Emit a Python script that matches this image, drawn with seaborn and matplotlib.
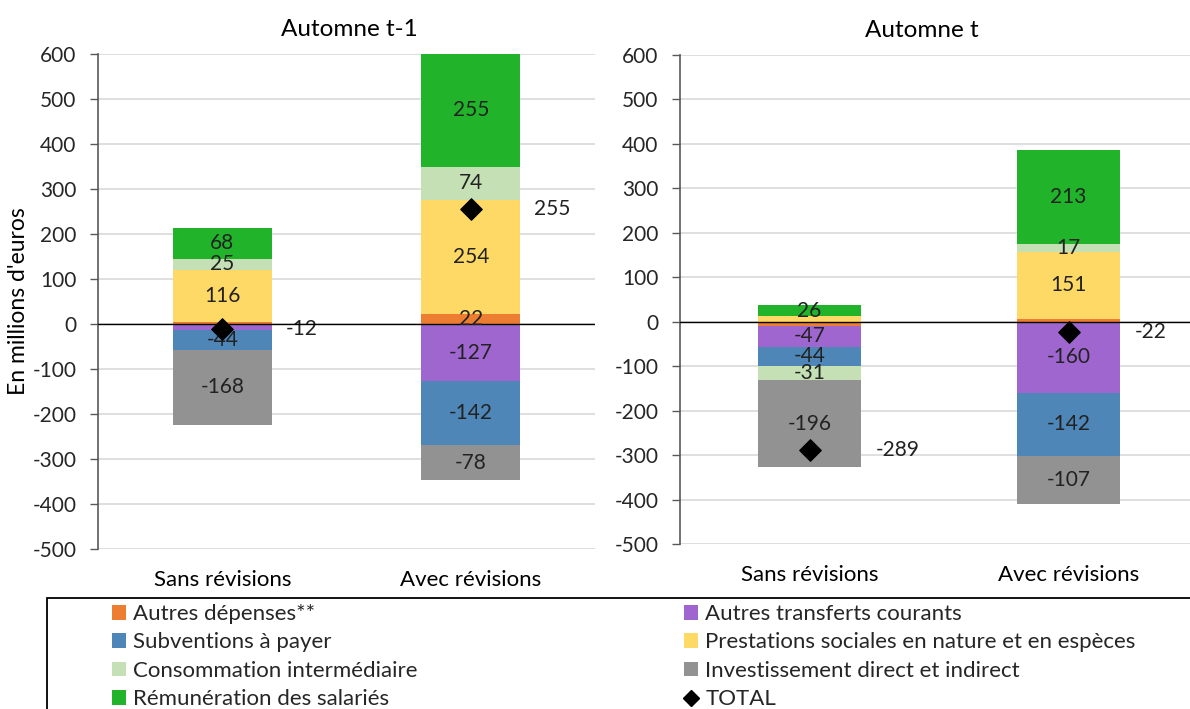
import matplotlib
matplotlib.use("Agg")
import matplotlib.pyplot as plt
import seaborn as sns
import numpy as np
import pandas as pd
from matplotlib.patches import Patch, Rectangle
from matplotlib.lines import Line2D

sns.set_theme(style="white")
plt.rcParams['font.family'] = ['Lato', 'DejaVu Sans']
plt.rcParams['axes.unicode_minus'] = False

categories = ["Sans révisions", "Avec révisions"]
panel_titles = ["Automne t-1", "Automne t"]

series_names = [
    "Autres dépenses**",
    "Autres transferts courants",
    "Subventions à payer",
    "Prestations sociales en nature et en espèces",
    "Consommation intermédiaire",
    "Investissement direct et indirect",
    "Rémunération des salariés",
]
series_colors = ["#ED7D31", "#A066D0", "#4E86B8", "#FFD966", "#C5E0B4", "#929292", "#21B42A"]

# Automne t-1
autres_depenses_t1 = [4, 22]
autres_transferts_t1 = [-13, -127]
subventions_t1 = [-44, -142]
prestations_t1 = [116, 254]
consommation_t1 = [25, 74]
investissement_t1 = [-168, -78]
remuneration_t1 = [68, 255]
total_t1 = [-12, 255]

# Automne t
autres_depenses_t = [-9, 6]
autres_transferts_t = [-47, -160]
subventions_t = [-44, -142]
prestations_t = [12, 151]
consommation_t = [-31, 17]
investissement_t = [-196, -107]
remuneration_t = [26, 213]
total_t = [-289, -22]

panels = [
    ([autres_depenses_t1, autres_transferts_t1, subventions_t1, prestations_t1,
      consommation_t1, investissement_t1, remuneration_t1], total_t1),
    ([autres_depenses_t, autres_transferts_t, subventions_t, prestations_t,
      consommation_t, investissement_t, remuneration_t], total_t),
]

YMIN, YMAX = -500, 600
W, H = 1190, 709
fig = plt.figure(figsize=(W / 100, H / 100), dpi=100)
ax_pos = [
    [98 / W, 1 - 549 / H, 497 / W, 495 / H],
    [680 / W, 1 - 544 / H, 518 / W, 489 / H],
]
title_x = [0.505, 0.467]
FS = 14.5

for p, (series, totals) in enumerate(panels):
    ax = fig.add_axes(ax_pos[p])
    x = np.arange(len(categories))
    pos_base = np.zeros(len(categories))
    neg_base = np.zeros(len(categories))
    for name, vals, col in zip(series_names, series, series_colors):
        vals = np.array(vals, dtype=float)
        bottom = np.where(vals >= 0, pos_base, neg_base)
        ax.bar(x, vals, width=0.4, bottom=bottom, color=col, edgecolor="none", zorder=2)
        for i, v in enumerate(vals):
            if abs(v) >= 15:
                lo, hi = sorted([bottom[i], bottom[i] + v])
                lo, hi = max(lo, YMIN), min(hi, YMAX)
                ax.text(x[i], (lo + hi) / 2, f"{int(v)}", ha="center", va="center",
                        fontsize=FS + 0.5, color="#222222", zorder=4)
        pos_base = pos_base + np.where(vals >= 0, vals, 0)
        neg_base = neg_base + np.where(vals < 0, vals, 0)
    df_tot = pd.DataFrame({"x": x, "total": totals})
    sns.scatterplot(data=df_tot, x="x", y="total", marker="D", s=120, color="black",
                    edgecolor="black", ax=ax, zorder=5, legend=False)
    for i, t in enumerate(totals):
        ax.text(x[i] + 0.255, t, f"{t}", ha="left", va="center", fontsize=FS + 0.5,
                color="#222222")
    ax.axhline(0, color="black", lw=1.0, zorder=3)
    ax.set_xlim(-0.5, 1.5)
    ax.set_ylim(YMIN, YMAX)
    ax.set_yticks(np.arange(-500, 601, 100))
    ax.yaxis.grid(True, color="#D9D9D9", lw=1.2, zorder=0)
    ax.xaxis.grid(False)
    ax.set_xticks(x)
    ax.set_xticklabels(categories, fontsize=16)
    ax.tick_params(axis="x", length=0, pad=15, labelcolor="black")
    ax.tick_params(axis="y", length=6, width=1, color="#595959", direction="out",
                   left=True, labelsize=FS + 0.5, labelcolor="#262626", pad=9.5)
    for s in ["top", "right", "bottom"]:
        ax.spines[s].set_visible(False)
    ax.spines["left"].set_color("#595959")
    ax.spines["left"].set_linewidth(1.2)
    ax.set_xlabel("")
    ax.set_ylabel("")
    ax.set_title(panel_titles[p], fontsize=17.5, color="black", pad=13, x=title_x[p])
    if p == 0:
        ax.set_ylabel("En millions d'euros", fontsize=16.5, color="black")
        ax.yaxis.set_label_coords((29 - 98) / 497, 0.5)

# legend frame
fig.patches.append(Rectangle((47 / W, -0.05), 1.2, 1 - 598 / H + 0.05,
                             transform=fig.transFigure, fill=False, edgecolor="black",
                             lw=1.3, figure=fig))
handles = [Patch(facecolor=c, edgecolor="none") for c in series_colors]
labels = list(series_names)
handles.append(Line2D([], [], marker="D", color="black", linestyle="none", markersize=8.5))
labels.append("TOTAL")
order_col1 = [0, 2, 4, 6]
order_col2 = [1, 3, 5, 7]
for idx, xpos in [(order_col1, 112 / W), (order_col2, 684 / W)]:
    fig.legend([handles[i] for i in idx], [labels[i] for i in idx],
               loc="upper left", bbox_to_anchor=(xpos, 1 - 604 / H), frameon=False,
               fontsize=16, handlelength=0.64, handleheight=0.64, handletextpad=0.32,
               labelspacing=0.38, borderpad=0.0, borderaxespad=0)

fig.savefig("out.png", dpi=100)
